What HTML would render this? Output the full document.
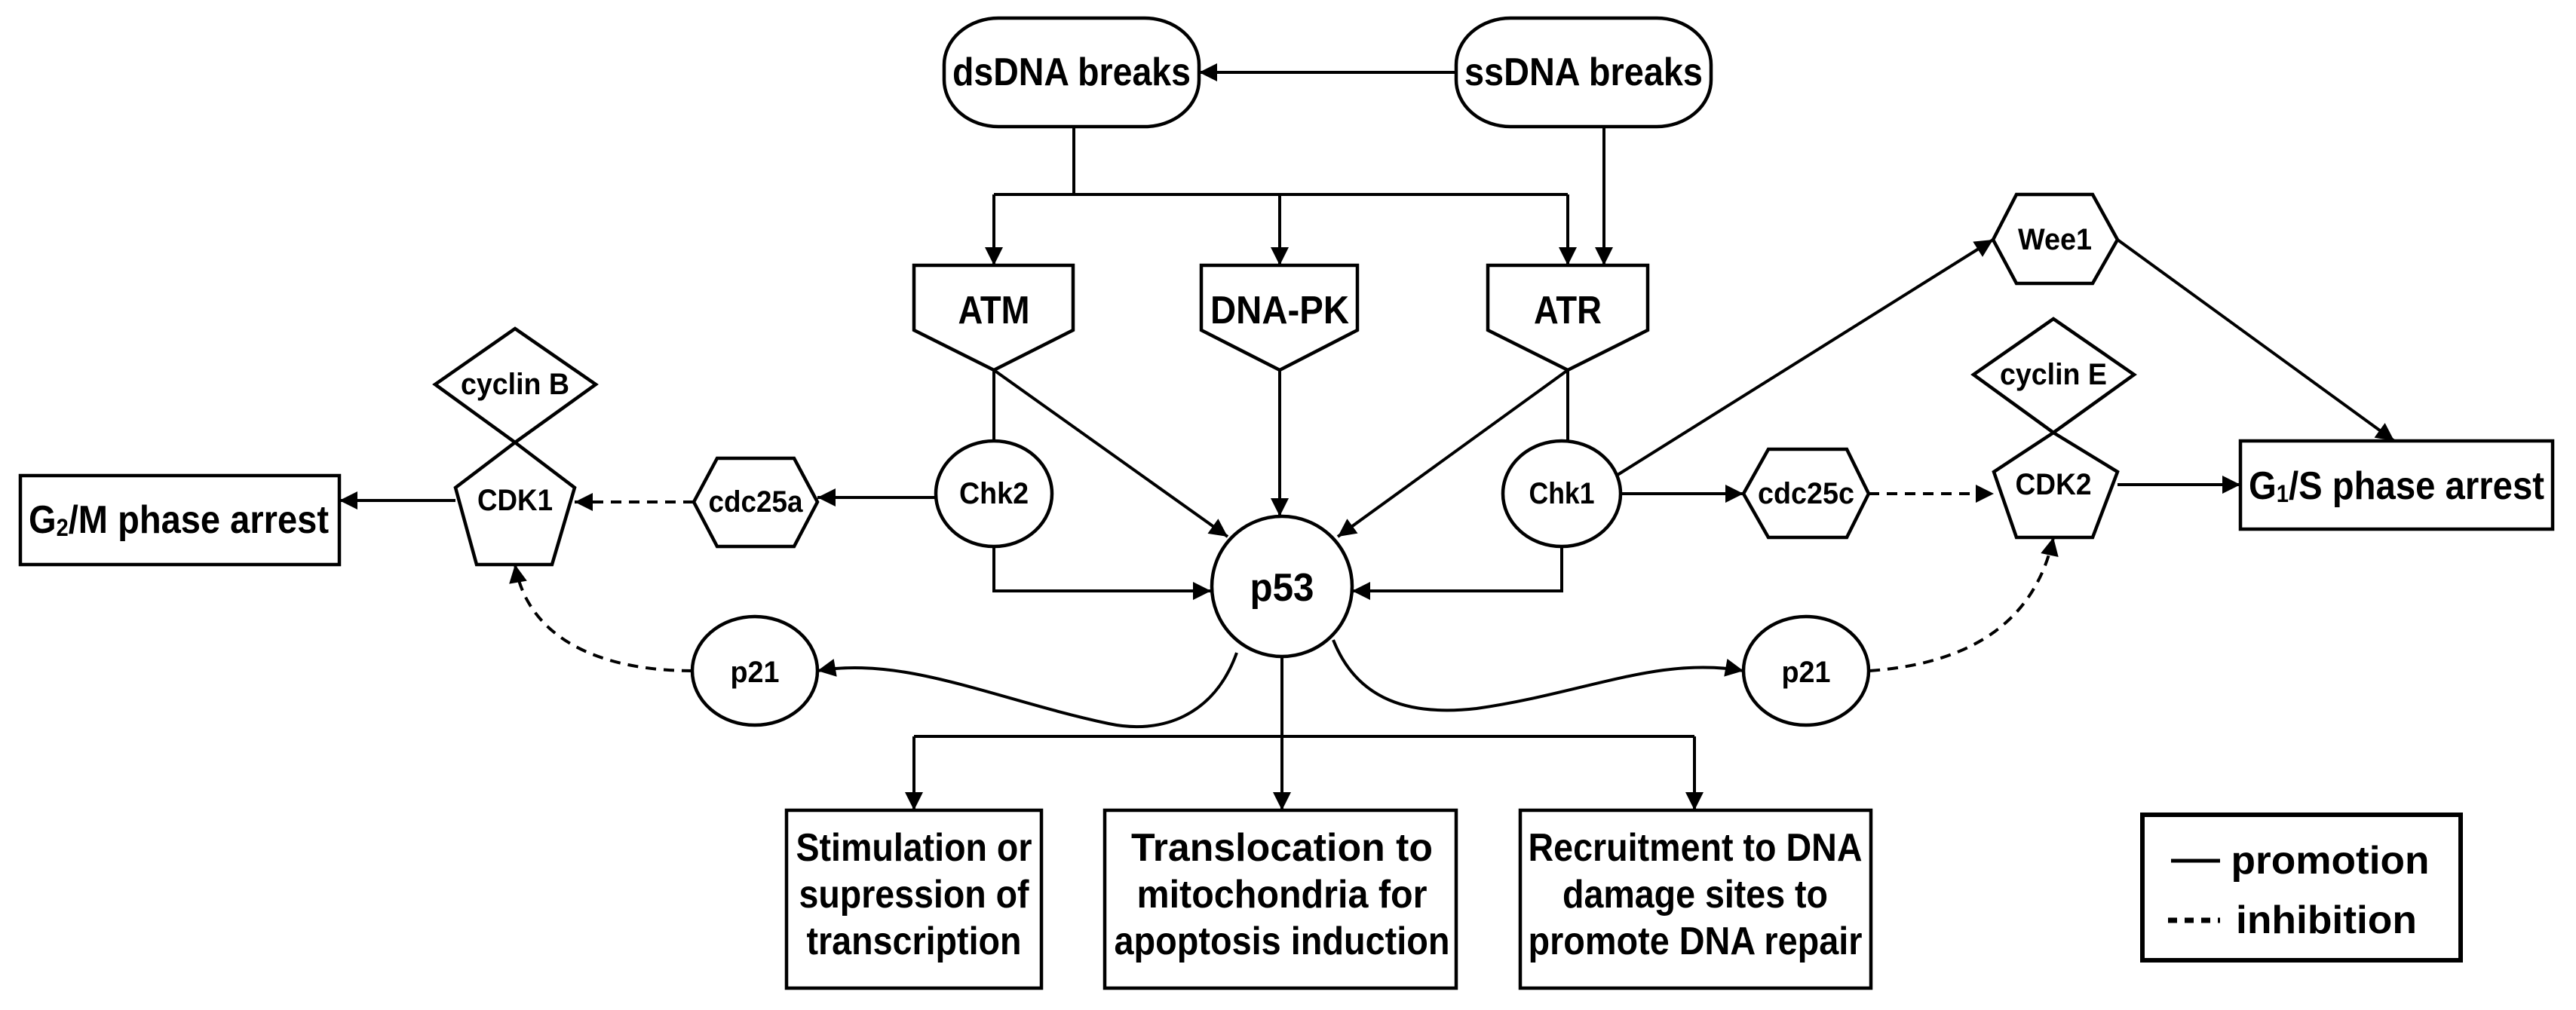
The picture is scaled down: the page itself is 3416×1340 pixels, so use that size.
<!DOCTYPE html>
<html><head><meta charset="utf-8"><style>
html,body{margin:0;padding:0;background:#fff;}
svg{display:block;}
text{font-family:"Liberation Sans",sans-serif;font-weight:bold;fill:#000;text-anchor:middle;dominant-baseline:central;}
</style></head><body>
<svg width="3416" height="1340" viewBox="0 0 3416 1340" xmlns="http://www.w3.org/2000/svg">
<defs>
<marker id="a" viewBox="0 0 10 10" refX="10" refY="5" markerWidth="36" markerHeight="24" markerUnits="userSpaceOnUse" orient="auto">
<path d="M0,0 L10,5 L0,10 z" fill="#000"/></marker>
</defs>
<g fill="none" stroke="#000" stroke-width="4.5">
<rect x="1252" y="24" width="338" height="144" rx="72" ry="62" fill="#fff"/>
<rect x="1931" y="24" width="338" height="144" rx="72" ry="62" fill="#fff"/>
<polygon points="1212,352 1423,352 1423,438 1318,491 1212,438" fill="#fff"/>
<polygon points="1593,352 1800,352 1800,438 1697,491 1593,438" fill="#fff"/>
<polygon points="1973,352 2185,352 2185,438 2079,491 1973,438" fill="#fff"/>
<ellipse cx="1318" cy="655" rx="77" ry="70" fill="#fff"/>
<ellipse cx="2071" cy="655" rx="78" ry="70" fill="#fff"/>
<circle cx="1700" cy="778" r="93" fill="#fff"/>
<ellipse cx="1001" cy="890" rx="83" ry="72" fill="#fff"/>
<ellipse cx="2395" cy="890" rx="83" ry="72" fill="#fff"/>
<polygon points="2643,318 2674,258 2775,258 2808,318 2775,376 2674,376" fill="#fff"/>
<polygon points="2312,655 2345,596 2449,596 2478,655 2449,713 2345,713" fill="#fff"/>
<polygon points="920,666 951,608 1053,608 1084,666 1053,725 951,725" fill="#fff"/>
<polygon points="683,436 790,510 683,587 577,510"/>
<polygon points="683,587 762,647 732,749 632,749 604,647"/>
<polygon points="2723,423 2830,497 2723,574 2617,497"/>
<polygon points="2723,574 2808,626 2775,713 2674,713 2644,626"/>
<rect x="27" y="631" width="423" height="118"/>
<rect x="2971" y="585" width="414" height="117"/>
<rect x="1043" y="1075" width="338" height="236"/>
<rect x="1465" y="1075" width="466" height="236"/>
<rect x="2016" y="1075" width="465" height="236"/>
<rect x="2841" y="1081" width="422" height="193" stroke-width="6"/>
</g>
<g fill="none" stroke="#000" stroke-width="4">
<path d="M1931,96 L1590,96" marker-end="url(#a)"/>
<path d="M1424,168 L1424,258"/>
<path d="M1318,258 L2079,258"/>
<path d="M1318,258 L1318,352" marker-end="url(#a)"/>
<path d="M1697,258 L1697,352" marker-end="url(#a)"/>
<path d="M2079,258 L2079,352" marker-end="url(#a)"/>
<path d="M2127,168 L2127,352" marker-end="url(#a)"/>
<path d="M1318,491 L1318,585"/>
<path d="M2079,491 L2079,585"/>
<path d="M1318,491 L1628,712" marker-end="url(#a)"/>
<path d="M1697,491 L1697,685" marker-end="url(#a)"/>
<path d="M2079,491 L1774,712" marker-end="url(#a)"/>
<path d="M1318,725 L1318,784 L1606,784" marker-end="url(#a)"/>
<path d="M2071,725 L2071,784 L1793,784" marker-end="url(#a)"/>
<path d="M1241,660 L1084,660" marker-end="url(#a)"/>
<path d="M920,666 L762,666" stroke-dasharray="14,10" marker-end="url(#a)"/>
<path d="M604,664 L450,664" marker-end="url(#a)"/>
<path d="M2149,655 L2312,655" marker-end="url(#a)"/>
<path d="M2478,655 L2644,655" stroke-dasharray="14,10" marker-end="url(#a)"/>
<path d="M2808,643 L2971,643" marker-end="url(#a)"/>
<path d="M2145,630 L2643,318" marker-end="url(#a)"/>
<path d="M2808,318 L3175,585" marker-end="url(#a)"/>
<path d="M1640,866 C1610,950 1540,975 1470,960 C1320,928 1200,870 1084,890" marker-end="url(#a)"/>
<path d="M1768,849 C1800,930 1870,950 1958,940 C2100,920 2200,870 2312,890" marker-end="url(#a)"/>
<path d="M918,890 C800,890 700,850 683,749" stroke-dasharray="14,10" marker-end="url(#a)"/>
<path d="M2479,890 C2620,880 2700,820 2723,713" stroke-dasharray="14,10" marker-end="url(#a)"/>
<path d="M1700,871 L1700,1075" marker-end="url(#a)"/>
<path d="M1212,977 L2247,977"/>
<path d="M1212,977 L1212,1075" marker-end="url(#a)"/>
<path d="M2247,977 L2247,1075" marker-end="url(#a)"/>
<path d="M2879,1142 L2944,1142" stroke-width="5"/>
<path d="M2875,1221 L2944,1221" stroke-width="7" stroke-dasharray="12,10"/>
</g>
<g font-size="52">
<text x="1421" y="96" textLength="316" lengthAdjust="spacingAndGlyphs">dsDNA breaks</text>
<text x="2100" y="96" textLength="316" lengthAdjust="spacingAndGlyphs">ssDNA breaks</text>
<text x="1318" y="412" textLength="95" lengthAdjust="spacingAndGlyphs">ATM</text>
<text x="1697" y="412" textLength="184" lengthAdjust="spacingAndGlyphs">DNA-PK</text>
<text x="2079" y="412" textLength="90" lengthAdjust="spacingAndGlyphs">ATR</text>
<text x="1700" y="780" textLength="85" lengthAdjust="spacingAndGlyphs">p53</text>
<text x="237" y="690" textLength="398" lengthAdjust="spacingAndGlyphs">G<tspan font-size="32" dy="10">2</tspan><tspan dy="-10">/M phase arrest</tspan></text>
<text x="3178" y="645" textLength="392" lengthAdjust="spacingAndGlyphs">G<tspan font-size="32" dy="10">1</tspan><tspan dy="-10">/S phase arrest</tspan></text>
<text x="1212" y="1125" textLength="313" lengthAdjust="spacingAndGlyphs">Stimulation or</text>
<text x="1212" y="1187" textLength="305" lengthAdjust="spacingAndGlyphs">supression of</text>
<text x="1212" y="1249" textLength="285" lengthAdjust="spacingAndGlyphs">transcription</text>
<text x="1700" y="1125" textLength="400" lengthAdjust="spacingAndGlyphs">Translocation to</text>
<text x="1700" y="1187" textLength="385" lengthAdjust="spacingAndGlyphs">mitochondria for</text>
<text x="1700" y="1249" textLength="445" lengthAdjust="spacingAndGlyphs">apoptosis induction</text>
<text x="2248" y="1125" textLength="443" lengthAdjust="spacingAndGlyphs">Recruitment to DNA</text>
<text x="2248" y="1187" textLength="352" lengthAdjust="spacingAndGlyphs">damage sites to</text>
<text x="2248" y="1249" textLength="443" lengthAdjust="spacingAndGlyphs">promote DNA repair</text>
</g>
<g font-size="52">
<text x="3090" y="1142" textLength="263" lengthAdjust="spacingAndGlyphs">promotion</text>
<text x="3085" y="1221" textLength="240" lengthAdjust="spacingAndGlyphs">inhibition</text>
</g>
<g font-size="40">
<text x="1318" y="655" textLength="92" lengthAdjust="spacingAndGlyphs">Chk2</text>
<text x="2071" y="655" textLength="87" lengthAdjust="spacingAndGlyphs">Chk1</text>
<text x="1002" y="666" textLength="125" lengthAdjust="spacingAndGlyphs">cdc25a</text>
<text x="2395" y="655" textLength="128" lengthAdjust="spacingAndGlyphs">cdc25c</text>
<text x="683" y="664" textLength="100" lengthAdjust="spacingAndGlyphs">CDK1</text>
<text x="2723" y="643" textLength="101" lengthAdjust="spacingAndGlyphs">CDK2</text>
<text x="683" y="510" textLength="144" lengthAdjust="spacingAndGlyphs">cyclin B</text>
<text x="2723" y="497" textLength="142" lengthAdjust="spacingAndGlyphs">cyclin E</text>
<text x="2725" y="318" textLength="98" lengthAdjust="spacingAndGlyphs">Wee1</text>
<text x="1001" y="892" textLength="65" lengthAdjust="spacingAndGlyphs">p21</text>
<text x="2395" y="892" textLength="65" lengthAdjust="spacingAndGlyphs">p21</text>
</g>
</svg>
</body></html>
